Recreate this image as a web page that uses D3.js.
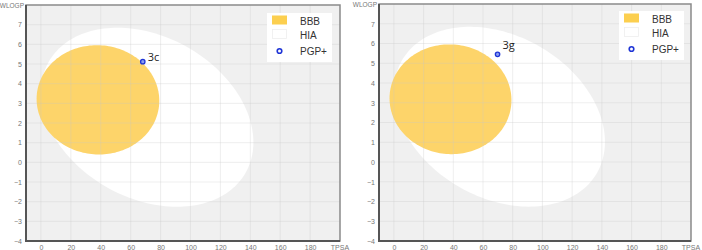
<!DOCTYPE html>
<html>
<head>
<meta charset="utf-8">
<script src="https://cdn.jsdelivr.net/npm/d3@7"></script>
<style>
  body { margin: 0; background: #fff; }
  svg { display: block; }
</style>
</head>
<body>
<div id="chart"></div>
<script>
// tick values of both axes
const xTicks = [0, 20, 40, 60, 80, 100, 120, 140, 160, 180];
const yTicks = [-4, -3, -2, -1, 0, 1, 2, 3, 4, 5, 6, 7];
// egg regions: centre x, centre y, width, height, angle (deg, data space)
const hiaEgg = [71.051, 2.292, 142.081, 8.740, -1.031325];
const bbbEgg = [38.117, 3.177, 82.061, 5.557, -0.066092];
// one compound per panel
const compounds = ["3c", "3g"];
const tpsa = [68.1, 69.8];
const wlogp = [5.12, 5.45];
const legendLabels = ["BBB", "HIA", "PGP+"];

const width = 702, height = 250;
const svg = d3.select("#chart").append("svg")
    .attr("width", width)
    .attr("height", height);

const defs = svg.append("defs");
defs.append("filter").attr("id", "soft")
    .append("feGaussianBlur").attr("stdDeviation", 0.7);

const panels = [
    { left: 26, right: 340, top: 5, bottom: 241, legX: 267, legY: 13 },
    { left: 379, right: 691, top: 4, bottom: 241, legX: 619, legY: 11 }
];

function ellipsePoints(e) {
    const [cx, cy, w, h, deg] = e;
    const a = w / 2, b = h / 2, th = deg * Math.PI / 180;
    return d3.range(0, 361, 2).map(k => {
        const t = k * Math.PI / 180;
        return [
            cx + a * Math.cos(t) * Math.cos(th) - b * Math.sin(t) * Math.sin(th),
            cy + a * Math.cos(t) * Math.sin(th) + b * Math.sin(t) * Math.cos(th)
        ];
    });
}

panels.forEach((p, i) => {
    const x = d3.scaleLinear().domain([-10, 200]).range([p.left, p.right]);
    const y = d3.scaleLinear().domain([-4, 8]).range([p.bottom, p.top]);
    const g = svg.append("g");

    const clipId = "clip" + i;
    g.append("clipPath").attr("id", clipId)
        .append("rect")
        .attr("x", p.left).attr("y", p.top)
        .attr("width", p.right - p.left).attr("height", p.bottom - p.top);

    g.append("rect")
        .attr("x", p.left).attr("y", p.top)
        .attr("width", p.right - p.left).attr("height", p.bottom - p.top)
        .attr("fill", "#f0f0f0");

    const line = d3.line().x(d => x(d[0])).y(d => y(d[1])).curve(d3.curveLinearClosed);
    const plot = g.append("g").attr("clip-path", `url(#${clipId})`);
    const eggs = plot.append("g").attr("filter", "url(#soft)");

    eggs.append("path")
        .attr("d", line(ellipsePoints(hiaEgg)))
        .attr("fill", "#ffffff");
    eggs.append("path")
        .attr("d", line(ellipsePoints(bbbEgg)))
        .attr("fill", "#fdd46a");

    // grid on top
    plot.selectAll(".vg").data(xTicks).enter().append("line")
        .attr("x1", d => x(d)).attr("x2", d => x(d))
        .attr("y1", p.top).attr("y2", p.bottom)
        .attr("stroke", "#c8c8c8").attr("stroke-opacity", 0.3).attr("stroke-width", 1);
    plot.selectAll(".hg").data(yTicks).enter().append("line")
        .attr("x1", p.left).attr("x2", p.right)
        .attr("y1", d => y(d)).attr("y2", d => y(d))
        .attr("stroke", "#c8c8c8").attr("stroke-opacity", 0.3).attr("stroke-width", 1);

    // frame
    g.append("rect")
        .attr("x", p.left).attr("y", p.top)
        .attr("width", p.right - p.left).attr("height", p.bottom - p.top)
        .attr("fill", "none").attr("stroke", "#8a8a8a").attr("stroke-width", 1.5);
    g.append("path")
        .attr("d", `M${p.left},${p.top}V${p.bottom}H${p.right}`)
        .attr("fill", "none").attr("stroke", "#555").attr("stroke-width", 2);

    // axes
    const xAxis = d3.axisBottom(x).tickValues(xTicks).tickSize(0).tickPadding(4);
    const gx = g.append("g").attr("transform", `translate(0,${p.bottom})`).call(xAxis);
    gx.select(".domain").remove();
    gx.selectAll("text").attr("fill", "#777").attr("font-size", "7px")
        .attr("font-family", "Liberation Sans, Arial, sans-serif");

    const yAxis = d3.axisLeft(y).tickValues(yTicks).tickSize(0).tickPadding(4);
    const gy = g.append("g").attr("transform", `translate(${p.left},0)`).call(yAxis);
    gy.select(".domain").remove();
    gy.selectAll("text").attr("fill", "#777").attr("font-size", "7px")
        .attr("font-family", "Liberation Sans, Arial, sans-serif");

    g.append("text")
        .attr("x", x(200)).attr("y", p.bottom + 4)
        .attr("dy", "0.71em")
        .attr("text-anchor", "middle")
        .attr("fill", "#777").attr("font-size", "7px")
        .attr("font-family", "Liberation Sans, Arial, sans-serif")
        .text("TPSA");
    g.append("text")
        .attr("x", p.left - 2).attr("y", p.top + 3)
        .attr("text-anchor", "end")
        .attr("fill", "#777").attr("font-size", "6.5px")
        .attr("font-family", "Liberation Sans, Arial, sans-serif")
        .text("WLOGP");

    // compound
    g.append("circle")
        .attr("cx", x(tpsa[i])).attr("cy", y(wlogp[i]))
        .attr("r", 2.2)
        .attr("fill", "#8a9cf0")
        .attr("stroke", "#1f35d6").attr("stroke-width", 1.3);
    g.append("text")
        .attr("x", x(tpsa[i]) + 5).attr("y", y(wlogp[i]) - (i === 0 ? 1 : 5))
        .attr("fill", "#222").attr("font-size", "11px")
        .attr("font-family", "Open Sans, sans-serif")
        .text(compounds[i]);

    // legend
    const lg = g.append("g").attr("transform", `translate(${p.legX},${p.legY})`);
    lg.append("rect").attr("width", 65).attr("height", 49).attr("fill", "#fff");
    const rowY = [7, 21, 37];
    lg.append("rect").attr("x", 5).attr("y", rowY[0] - 4.5).attr("width", 15).attr("height", 9)
        .attr("fill", "#fccf4f");
    lg.append("rect").attr("x", 5.5).attr("y", rowY[1] - 4.5).attr("width", 14).attr("height", 9)
        .attr("fill", "#fff").attr("stroke", "#eee").attr("stroke-width", 0.8);
    lg.append("circle").attr("cx", 12.5).attr("cy", rowY[2] + 1).attr("r", 2.3)
        .attr("fill", "#fff").attr("stroke", "#1f35d6").attr("stroke-width", 1.6);
    lg.selectAll(".lt").data(legendLabels).enter().append("text")
        .attr("x", 33).attr("y", (d, k) => rowY[k] + 1)
        .attr("dy", "0.35em")
        .attr("fill", "#333").attr("font-size", "10px")
        .attr("font-family", "Liberation Sans, Arial, sans-serif")
        .text(d => d);
});
</script>
</body>
</html>
